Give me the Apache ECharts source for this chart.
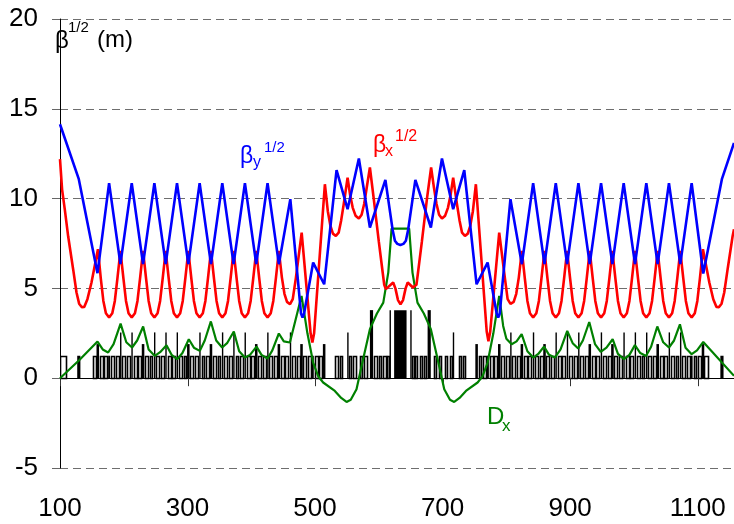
<!DOCTYPE html>
<html>
<head>
<meta charset="utf-8">
<script src="https://cdn.jsdelivr.net/npm/echarts@6/dist/echarts.min.js"></script>
<style>
  html, body { margin: 0; padding: 0; background: #ffffff; }
  #chart { width: 734px; height: 524px; }
</style>
</head>
<body>
<div id="chart"></div>
<script>
// Ring optics: square root of the beta functions and horizontal dispersion
// along the path length s (m), with the magnet lattice drawn along y = 0.

const sRange = [100, 1157];
const sTicks = [100, 300, 500, 700, 900, 1100];
const yRange = [-5, 20];
const yStep = 5;

// sqrt(beta_x) in m^(1/2) : [s, value]
const sqrtBetaX = [
  [100,12.2],[103.3,10.5],[107.5,9.4],[112.8,7.9],[120.6,6.07],[125.9,4.77],[130,4.15],[134,3.96],[138,3.97],[143,4.4],[149.4,5.33],[159.5,7.18],
  [164,5.55],[168,4.3],[172,3.62],[177,3.38],[182,3.62],[186,4.3],[190,5.55],[194.75,7.09],
  [199.5,5.55],[203.5,4.3],[207.5,3.62],[212.5,3.38],[217.5,3.62],[221.5,4.3],[225.5,5.55],[230.25,7.09],
  [235,5.55],[239,4.3],[243,3.62],[248,3.38],[253,3.62],[257,4.3],[261,5.55],[265.75,7.09],
  [270.5,5.55],[274.5,4.3],[278.5,3.62],[283.5,3.38],[288.5,3.62],[292.5,4.3],[296.5,5.55],[301.25,7.09],
  [306,5.55],[310,4.3],[314,3.62],[319,3.38],[324,3.62],[328,4.3],[332,5.55],[336.75,7.09],
  [341.5,5.55],[345.5,4.3],[349.5,3.62],[354.5,3.38],[359.5,3.62],[363.5,4.3],[367.5,5.55],[372.25,7.09],
  [377,5.55],[381,4.3],[385,3.62],[390,3.38],[395,3.62],[399,4.3],[403,5.55],[407.75,7.09],
  [412.5,5.55],[416.5,4.3],[420.5,3.62],[425.5,3.38],[430.5,3.62],[434.5,4.3],[438.5,5.55],[443.25,7.09],
  [448,5.6],[452,4.7],[456,4.25],[460.8,4.12],[465,4.4],[470,5.6],[479,8.11],
  [493,2.5],[495.8,1.99],[498.5,2.5],[515.4,10.8],
  [520,9.3],[524,8.5],[528,8.05],[532.6,7.92],[537,8.1],[541,8.8],[545,9.7],[551,11.17],
  [555,10.2],[559,9.5],[563.5,9.05],[568.7,8.89],[573,9.1],[577,9.7],[581,10.6],[586,11.73],
  [592,10.0],[600,7.6],[606,5.9],[608.5,5.2],[611,4.96],[614,5.05],[622.5,5.33],
  [626,5.0],[630,4.35],[634,4.12],[638,4.35],[642,5.0],[645.3,5.33],[653.5,5.05],[656.5,4.96],[659,5.2],[661.5,5.9],[667.5,7.6],[675.5,10.0],[682,11.73],
  [686.5,10.6],[690.5,9.7],[694.5,9.1],[699,8.89],[704,9.05],[708.5,9.5],[712.5,10.2],[716.6,11.17],
  [722.5,9.7],[726.5,8.8],[730.5,8.1],[735,7.92],[739.5,8.05],[743.5,8.5],[747.5,9.3],[752.2,10.8],
  [769.2,2.6],[771.9,2.05],[774.7,2.6],[788.8,8.11],
  [797.6,5.6],[802,4.4],[806.5,4.14],[811.5,4.25],[815.5,4.7],[819.5,5.6],[824.3,7.09],
  [829,5.55],[833,4.3],[837,3.62],[842,3.38],[847,3.62],[851,4.3],[855,5.55],[859.75,7.09],
  [864.5,5.55],[868.5,4.3],[872.5,3.62],[877.5,3.38],[882.5,3.62],[886.5,4.3],[890.5,5.55],[895.25,7.09],
  [900,5.55],[904,4.3],[908,3.62],[913,3.38],[918,3.62],[922,4.3],[926,5.55],[930.75,7.09],
  [935.5,5.55],[939.5,4.3],[943.5,3.62],[948.5,3.38],[953.5,3.62],[957.5,4.3],[961.5,5.55],[966.25,7.09],
  [971,5.55],[975,4.3],[979,3.62],[984,3.38],[989,3.62],[993,4.3],[997,5.55],[1001.75,7.09],
  [1006.5,5.55],[1010.5,4.3],[1014.5,3.62],[1019.5,3.38],[1024.5,3.62],[1028.5,4.3],[1032.5,5.55],[1037.25,7.09],
  [1042,5.55],[1046,4.3],[1050,3.62],[1055,3.38],[1060,3.62],[1064,4.3],[1068,5.55],[1072.75,7.09],
  [1077.5,5.55],[1081.5,4.3],[1085.5,3.62],[1090.6,3.38],[1095.5,3.62],[1099.5,4.3],[1103.5,5.55],[1108.3,7.18],
  [1118.3,5.33],[1124.5,4.4],[1129.5,3.97],[1133.5,3.96],[1137.5,4.15],[1141.7,4.77],[1147,6.07],[1154.8,7.9],[1157,8.3]
];

// sqrt(beta_y) in m^(1/2) : [s, value]
const sqrtBetaY = [
  [100,14.14],[129.5,11.08],[158.8,5.85],
  [177,10.86],[194.75,6.35],[212.5,10.86],[230.25,6.35],[248,10.86],[265.75,6.35],[283.5,10.86],[301.25,6.35],
  [319,10.86],[336.75,6.35],[354.5,10.86],[372.25,6.35],[390,10.86],[407.75,6.35],[425.5,10.86],[443.25,6.35],
  [461.2,9.97],[478,3.6],[480.4,3.38],[482.8,3.6],[497,6.44],[514.3,5.23],[533.7,11.58],[551,9.41],[568.7,12.23],[586,8.39],
  [610.3,11.04],[621.6,8.27],[625.2,7.65],[629,7.48],[633.8,7.42],[638.6,7.48],[642.4,7.65],[646,8.27],[657.3,11.04],
  [681.6,8.39],[699,12.23],[716.6,9.41],[734,11.58],[753.3,5.23],[770.6,6.44],[784.8,3.6],[787.2,3.38],[789.6,3.6],[806.4,9.97],
  [824.3,6.35],[842,10.86],[859.75,6.35],[877.5,10.86],[895.25,6.35],[913,10.86],[930.75,6.35],[948.5,10.86],
  [966.25,6.35],[984,10.86],[1001.75,6.35],[1019.5,10.86],[1037.25,6.35],[1055,10.86],[1072.75,6.35],[1090.6,10.86],
  [1108.8,5.83],[1138,11.08],[1157,13.1]
];

// horizontal dispersion D_x in m : [s, value]
const dispersionX = [
  [100,0],[130,1.0],[158.8,2.04],[167,1.6],[175.5,1.43],[184,1.9],[195,3.04],[204,2.0],[213,1.71],[221,2.1],[230.4,2.88],
  [239,1.6],[248.7,1.24],[257,1.45],[267,1.84],[275,1.3],[283.7,1.06],[292,1.4],[302,2.17],[310,1.7],[319.3,1.52],
  [327,2.1],[336.6,3.16],[345,2.1],[354.3,1.71],[362,1.95],[372.6,2.6],[381,1.5],[389.9,1.15],[398,1.3],[408.2,1.76],
  [416,1.3],[425.5,1.1],[433,1.55],[443.2,2.49],[451,2.05],[460.5,1.99],[478.8,4.58],[488,2.5],[497,0.87],[505,0.1],
  [512.7,-0.24],[531,-0.71],[541,-1.1],[549.4,-1.32],[556,-1.2],
  [565,-0.61],[575,1.0],[586,2.73],[597,3.6],[607,4.21],[614.8,5.88],[618.5,7.6],[620,8.33],
  [647.6,8.33],[649.1,7.6],[652.8,5.88],[660.6,4.21],[670.6,3.6],[681.6,2.73],[692.6,1.0],[702.6,-0.61],[711.6,-1.2],
  [718.2,-1.32],[726.6,-1.1],[736.6,-0.71],[754.9,-0.24],[762.6,0.1],[770.6,0.87],[779.6,2.5],[788.8,4.58],
  [795,2.91],[800,2.2],[808.3,1.89],[816,2.05],[824,2.45],[833,1.5],[842.2,1.15],[850,1.35],[859,1.76],[867,1.3],[876,1.15],
  [885,1.6],[895.5,2.63],[904,1.95],[912.7,1.65],[920,2.1],[930,3.13],[939,1.9],[948,1.46],[957,1.7],[966.7,2.17],
  [975,1.35],[984.4,1.06],[993,1.3],[1001.6,1.84],[1010,1.4],[1019,1.24],[1027,1.75],[1036.7,2.88],[1046,2.0],
  [1055,1.71],[1063,2.1],[1072.2,3.0],[1081,1.7],[1090.6,1.34],[1099,1.55],[1108.8,2.02],[1157,0.13]
];

// dipoles: [s start, s end], drawn as open boxes
const dipoleHeight = 1.25;
const dipoles = [
  [100,109],[152,157],[162.3,166.8],[169.5,174],[180,184.5],[187.3,191.8],[197.8,202.3],[205,209.5],[215.5,220],[222.8,227.3],
  [233.3,237.8],[240.5,245],[251,255.5],[258.3,262.8],[268.8,273.3],[276,280.5],[286.5,291],[293.8,298.3],[304.3,308.8],
  [311.5,316],[322,326.5],[329.3,333.8],[339.8,344.3],[347,351.5],[357.5,362],[364.8,369.3],[375.3,379.8],[382.5,387],
  [393,397.5],[400.3,404.8],[410.8,415.3],[418,422.5],[428.5,433],[435.8,440.3],[446.3,450.8],[453.5,458],[464,468.5],
  [471.3,475.8],[481.8,486.3],[489,493.5],[499.5,504],[506.8,511.3],
  [532,535.5],[539,542.5],[553,556.5],[560,563.5],[570.5,574],[577.5,581],[593,596.5],[600,603.5],[607,610.5],[612.5,615.5],
  [652.1,655.1],[657.1,660.6],[664.1,667.6],[671.1,674.6],[686.6,690.1],[693.6,697.1],[704.1,707.6],[711.1,714.6],[725.1,728.6],[732.1,735.6],
  [756.4,760.9],[763.6,768.1],[774.1,778.6],[781.4,785.9],[791.9,796.4],[799.1,803.6],[809.6,814.1],[816.9,821.4],[827.4,831.9],
  [834.6,839.1],[845.1,849.6],[852.4,856.9],[862.9,867.4],[870.1,874.6],[880.6,885.1],[887.9,892.4],[898.4,902.9],[905.6,910.1],
  [916.1,920.6],[923.4,927.9],[933.9,938.4],[941.1,945.6],[951.6,956.1],[958.9,963.4],[969.4,973.9],[976.6,981.1],[987.1,991.6],
  [994.4,998.9],[1004.9,1009.4],[1012.1,1016.6],[1022.6,1027.1],[1029.9,1034.4],[1040.4,1044.9],[1047.6,1052.1],[1058.1,1062.6],
  [1065.4,1069.9],[1075.9,1080.4],[1083.1,1087.6],[1093.6,1098.1],[1100.9,1105.4],[1110.6,1115.6]
];

// quadrupoles and insertion magnets: [s centre, half length, height], drawn filled
const magnets = [
  [129.5,2.5,1.25],
  [159.25,2,1.9],[177,1.5,1.25],[194.75,0.6,2.55],[212.5,0.6,2.55],[230.25,2,1.9],[248,0.6,2.55],[265.75,0.6,2.55],
  [283.5,0.6,2.55],[301.25,2,1.9],[319,0.6,2.55],[336.75,2,1.9],[354.5,0.6,2.55],[372.25,0.6,2.55],[390,0.6,2.55],
  [407.75,2,1.9],[425.5,0.6,2.55],[443.25,2,1.9],[461,0.6,2.55],[478.75,2,1.9],[496.5,1.5,1.25],[514.25,2,1.9],
  [551,0.6,2.55],[588.5,2.5,3.79],[617.5,0.7,3.79],[633.75,9.75,3.79],[650,0.7,3.79],[679,2.5,3.79],[716.6,0.6,2.55],
  [753.35,2,1.9],[771.1,1.5,1.25],[788.85,2,1.9],[806.6,0.6,2.55],[824.35,2,1.9],[842.1,0.6,2.55],[859.85,2,1.9],
  [877.6,0.6,2.55],[895.35,0.6,2.55],[913.1,0.6,2.55],[930.85,2,1.9],[948.6,0.6,2.55],[966.35,2,1.9],[984.1,0.6,2.55],
  [1001.85,0.6,2.55],[1019.6,0.6,2.55],[1037.35,2,1.9],[1055.1,0.6,2.55],[1072.85,0.6,2.55],[1090.6,1.5,1.25],
  [1108.35,2,1.9],[1138.1,2.5,1.25]
];

// [s0, s1, height, filled]
const latticeRects = dipoles.map(d => [d[0], d[1], dipoleHeight, 0])
  .concat(magnets.map(m => [m[0] - m[1], m[0] + m[1], m[2], 1]));

const FONT = '"Liberation Sans", Arial, sans-serif';
const BLUE = '#0000ff', RED = '#ff0000', GREEN = '#008000';
const TICK_LEN = 8;

function renderMagnet(params, api) {
  const p0 = api.coord([api.value(0), 0]);
  const p1 = api.coord([api.value(1), api.value(2)]);
  if (api.value(3) === 1) {
    return {
      type: 'rect',
      shape: { x: p0[0], y: p1[1], width: Math.max(p1[0] - p0[0], 1.4), height: p0[1] - p1[1] },
      style: { fill: '#000000' }
    };
  }
  const x0 = Math.round(p0[0]) + 0.5, x1 = Math.round(p1[0]) + 0.5;
  const yb = Math.round(p0[1]) + 0.5, yt = Math.round(p1[1]) + 0.5;
  return {
    type: 'rect',
    shape: { x: x0, y: yt, width: Math.max(x1 - x0, 1), height: yb - yt },
    style: { fill: '#ffffff', stroke: '#000000', lineWidth: 1.6 }
  };
}

// s-axis ticks hang below the y = 0 baseline
function renderTick(params, api) {
  const p = api.coord([api.value(0), 0]);
  const x = Math.round(p[0]) + 0.5;
  return {
    type: 'line',
    shape: { x1: x, y1: p[1], x2: x, y2: p[1] + TICK_LEN },
    style: { stroke: '#333333', lineWidth: 1 }
  };
}

function txt(x, y, text, size, color) {
  return {
    type: 'text', x: x, y: y, silent: true, z: 100,
    style: { text: text, font: size + 'px ' + FONT, fill: color, align: 'left', verticalAlign: 'middle' }
  };
}

const chart = echarts.init(document.getElementById('chart'), null, { renderer: 'canvas' });
chart.setOption({
  animation: false,
  backgroundColor: '#ffffff',
  grid: { left: 60, right: 0, top: 19, bottom: 56, containLabel: false, outerBoundsMode: 'none' },
  xAxis: {
    type: 'value',
    min: sRange[0], max: sRange[1],
    axisLine: { show: true, onZero: true, lineStyle: { color: '#000000', width: 1 } },
    axisTick: { show: false },
    axisLabel: {
      customValues: sTicks, margin: 28, fontSize: 26, fontFamily: FONT, color: '#000000',
      formatter: v => String(v)
    },
    splitLine: { show: false }
  },
  yAxis: {
    type: 'value',
    min: yRange[0], max: yRange[1], interval: yStep,
    axisLine: { show: true, lineStyle: { color: '#000000', width: 1 } },
    axisTick: { show: true, length: 8, lineStyle: { color: '#666666' } },
    axisLabel: { margin: 22, fontSize: 26, fontFamily: FONT, color: '#000000', formatter: v => String(v) },
    splitLine: { show: true, lineStyle: { color: '#6e6e6e', width: 1, type: [8, 5] } }
  },
  series: [
    {
      name: 'lattice', type: 'custom', renderItem: renderMagnet, clip: true, z: 1,
      encode: { x: [0, 1], y: 2 },
      data: latticeRects
    },
    {
      name: 'sTicks', type: 'custom', renderItem: renderTick, clip: false, z: 1, silent: true,
      encode: { x: 0 },
      data: sTicks.map(v => [v])
    },
    {
      name: 'Dx', type: 'line', data: dispersionX, showSymbol: false, clip: true, z: 2,
      lineStyle: { color: GREEN, width: 2.2 }
    },
    {
      name: 'betax', type: 'line', data: sqrtBetaX, showSymbol: false, clip: true, z: 3,
      lineStyle: { color: RED, width: 2.6 }
    },
    {
      name: 'betay', type: 'line', data: sqrtBetaY, showSymbol: false, clip: true, z: 4,
      lineStyle: { color: BLUE, width: 2.6 }
    }
  ],
  graphic: [
    txt(55, 41, 'β', 24, '#000000'),
    txt(68, 28, '1/2', 15, '#000000'),
    txt(97, 40, '(m)', 24, '#000000'),
    txt(240, 157, 'β', 23, BLUE),
    txt(253, 163, 'y', 16, BLUE),
    txt(264, 148, '1/2', 15, BLUE),
    txt(373, 146, 'β', 23, RED),
    txt(385, 152, 'x', 16, RED),
    txt(395, 137, '1/2', 16, RED),
    txt(487, 417, 'D', 24, GREEN),
    txt(502, 426, 'x', 17, GREEN)
  ]
});
</script>
</body>
</html>
